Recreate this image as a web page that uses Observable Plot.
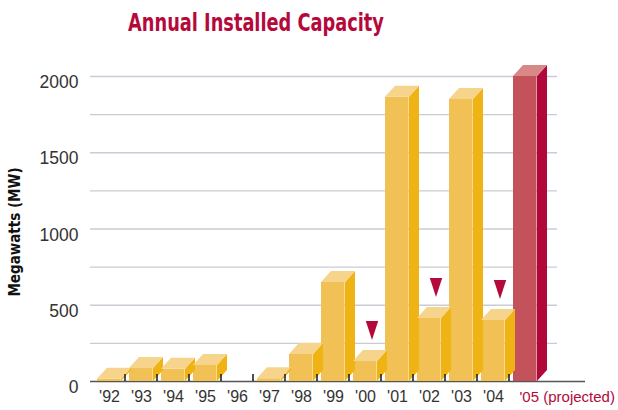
<!DOCTYPE html>
<html>
<head>
<meta charset="utf-8">
<script src="https://cdn.jsdelivr.net/npm/d3@7"></script>
<script src="https://cdn.jsdelivr.net/npm/@observablehq/plot@0.6"></script>
<style>
  html, body { margin: 0; padding: 0; background: #fff; }
  #wrap { width: 618px; height: 410px; position: relative; overflow: hidden; }
  #title {
    width: 512px; height: 46px; box-sizing: border-box; padding-top: 8px;
    text-align: center; font-family: "DejaVu Sans Condensed", "DejaVu Sans", sans-serif;
    font-weight: bold; font-size: 25px; color: #B5093C; line-height: normal;
    transform: scaleX(0.79); transform-origin: 256px 0;
  }
  svg { display: block; }
</style>
</head>
<body>
<div id="wrap">
  <div id="title">Annual Installed Capacity</div>
  <div id="chart"></div>
</div>
<script>
// ---- data ----
const years = ["'92", "'93", "'94", "'95", "'96", "'97", "'98", "'99", "'00", "'01", "'02", "'03", "'04", "'05"];
const capacity = [15, 85, 80, 105, 0, 18, 177, 650, 131, 1864, 413, 1850, 400, 2000];
const projectedYears = ["'05"];
const declineYears = ["'00", "'02", "'04"];
const yTickValues = [0, 500, 1000, 1500, 2000];
const gridValues = [250, 500, 750, 1000, 1250, 1500, 1750, 2000];
const projectedLabel = "'05 (projected)";
const yLabel = "Megawatts (MW)";

// ---- styles ----
const COL = {
  front: "#F2C155", side: "#EFB313", top: "#F7D48C",
  pFront: "#C4525A", pSide: "#B2073A", pTop: "#D88886",
  red: "#B3093B", grid: "#CBCBD5", base: "#555", tick: "#222", text: "#333"
};
const FRONT_INSET = 4, FRONT_W = 24, DX = 10, DY = 11;
const W = 618, H = 364, ML = 90, MR = 74, MT = 30, MB = 29;
const BW = (W - ML - MR) / years.length;

const rows = years.map((year, i) => ({year, value: capacity[i], projected: projectedYears.includes(year)}));
const bars = rows.filter(d => d.value > 0);
const declines = rows.filter(d => declineYears.includes(d.year));

const tallTriangle = {
  draw(ctx) {
    ctx.moveTo(-6.2, -9.5);
    ctx.lineTo(6.2, -9.5);
    ctx.lineTo(0, 9.5);
    ctx.closePath();
  }
};

function boxFaces(index, scales) {
  const x = scales.x, y = scales.y;
  const g = d3.create("svg:g");
  for (const d of bars) {
    const x0 = x(d.year) + FRONT_INSET, x1 = x0 + FRONT_W;
    const yb = y(0), yt = y(d.value);
    g.append("polygon")
      .attr("points", [[x1, yb], [x1 + DX, yb - DY], [x1 + DX, yt - DY], [x1, yt]].join(" "))
      .attr("fill", d.projected ? COL.pSide : COL.side);
    g.append("polygon")
      .attr("points", [[x0, yt], [x1, yt], [x1 + DX, yt - DY], [x0 + DX, yt - DY]].join(" "))
      .attr("fill", d.projected ? COL.pTop : COL.top);
  }
  for (const yr of years.slice(1)) {
    const bx = x(yr);
    g.append("line")
      .attr("x1", bx).attr("x2", bx)
      .attr("y1", y(0)).attr("y2", y(0) - 7)
      .attr("stroke", COL.tick).attr("stroke-width", 1.6);
  }
  return g.node();
}

const chart = Plot.plot({
  width: W, height: H,
  marginLeft: ML, marginRight: MR, marginTop: MT, marginBottom: MB,
  style: {fontFamily: "'Liberation Sans', Arial, sans-serif", background: "#fff", overflow: "visible"},
  x: {domain: years, padding: 0, axis: null},
  y: {domain: [0, 2000], axis: null},
  color: {type: "identity"},
  marks: [
    Plot.ruleY(gridValues, {stroke: COL.grid, strokeWidth: 1.4, insetRight: -13}),
    Plot.ruleY([0], {stroke: COL.base, strokeWidth: 1.4, insetRight: -41}),
    Plot.barY(bars, {
      x: "year", y: "value",
      fill: d => d.projected ? COL.pFront : COL.front,
      insetLeft: FRONT_INSET, insetRight: BW - FRONT_INSET - FRONT_W
    }),
    boxFaces,
    Plot.dot(declines, {x: "year", y: "value", symbol: tallTriangle, fill: COL.red, stroke: null, dx: 6.5, dy: -31}),
    Plot.text(yTickValues, {
      y: d => d, text: d => String(d), frameAnchor: "left", textAnchor: "end",
      dx: -12, dy: 6, fontSize: 17.5, fill: COL.text
    }),
    Plot.text(years.filter(d => !projectedYears.includes(d)), {
      x: d => d, text: d => d, frameAnchor: "bottom", dy: 20, fontSize: 16, fill: COL.text
    }),
    Plot.text(projectedYears, {
      x: d => d, text: () => projectedLabel, frameAnchor: "bottom", textAnchor: "start",
      dx: -6, dy: 20, fontSize: 15, fill: COL.red
    }),
    Plot.text([yLabel], {
      text: d => d, frameAnchor: "left", textAnchor: "middle", rotate: -90, dx: -75, dy: 3,
      fontSize: 15, fontWeight: "bold", fill: "#111",
      fontFamily: "'DejaVu Sans Condensed', 'DejaVu Sans', sans-serif"
    })
  ]
});
document.getElementById("chart").appendChild(chart);
</script>
</body>
</html>
